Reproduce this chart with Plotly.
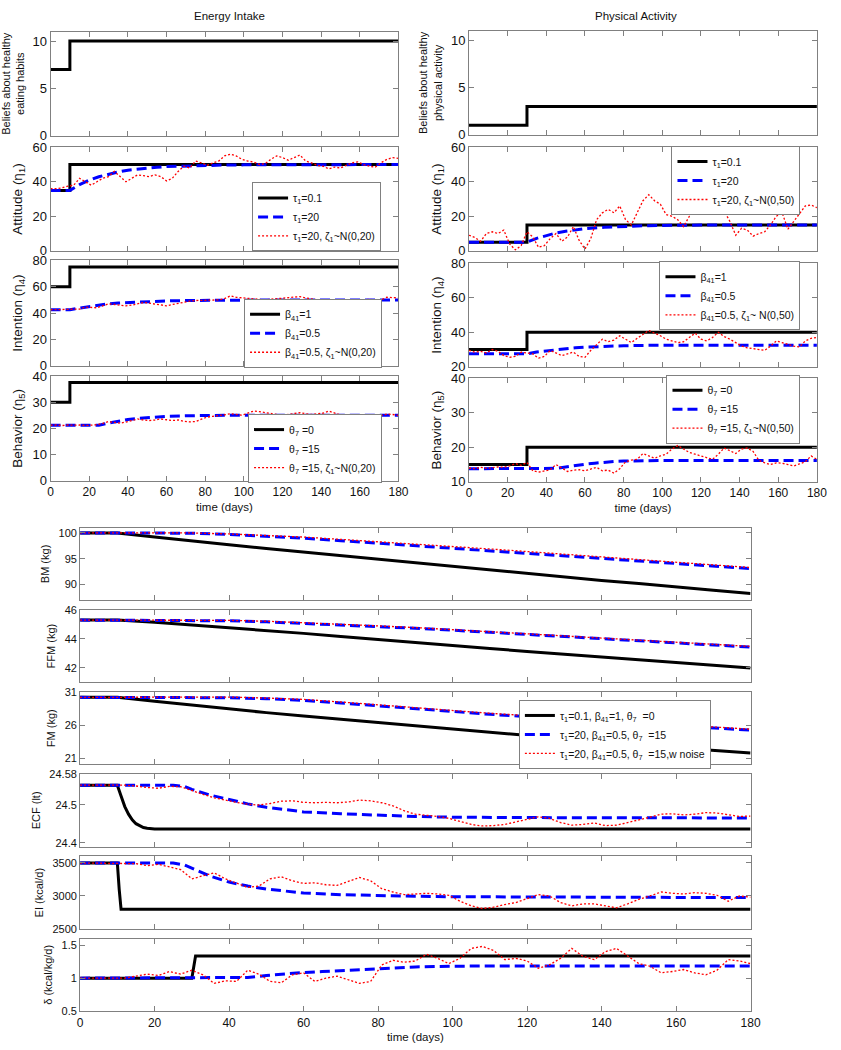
import plotly.graph_objects as go

W, H = 841, 1050

# ---------------- time grids ----------------
days3 = list(range(0, 181, 3))
days10 = list(range(0, 181, 10))

# ---------------- Energy Intake (left column) ----------------
beliefs_ei_t = [0, 10, 180]
beliefs_ei = [7, 10, 10]

att_ei_black_t = [0, 10, 180]
att_ei_black = [35, 50, 50]
att_ei_blue_t = [0, 10, 15, 20, 25, 30, 35, 40, 45, 50, 55, 60, 65, 70, 75, 80, 85, 90, 100, 110, 120, 140, 160, 180]
att_ei_blue = [35, 35, 38.3, 40.9, 42.9, 44.5, 45.7, 46.7, 47.4, 48.0, 48.4, 48.8, 49.0, 49.3, 49.4, 49.5, 49.6, 49.7, 49.8, 49.85, 49.9, 50, 50, 50]
att_ei_red = [36, 36, 36.5, 37.5, 38, 42, 40, 38, 40, 42,
              43, 46, 43, 40, 42, 44, 43.5, 43, 44, 43,
              40.5, 42, 46, 49, 48, 52, 51, 49.5, 51, 52,
              55, 56, 55, 53, 52, 51.5, 50, 50.5, 53, 55,
              54, 52.5, 54, 55.5, 52, 51, 49.5, 49, 47.5, 48.5,
              48, 49.5, 51, 51.5, 50, 49, 48.5, 51, 53, 54,
              53.5]

int_ei_black_t = [0, 10, 180]
int_ei_black = [60, 75, 75]
int_ei_blue_t = [0, 10, 15, 20, 25, 30, 35, 40, 45, 50, 55, 60, 70, 80, 90, 100, 120, 180]
int_ei_blue = [42.5, 42.5, 43.8, 45, 46.1, 47, 47.6, 48, 48.5, 48.8, 49, 49.2, 49.5, 49.7, 49.8, 49.9, 50, 50]
int_ei_red = [42.5, 42.5, 42.3, 42.8, 43, 43, 44.5, 44, 44, 45.5,
              47, 46.5, 46, 45.5, 46, 47, 48, 47.5, 47, 46,
              45.5, 46.5, 47.5, 48.5, 49, 49.5, 49.5, 50, 50, 50,
              51, 53, 52, 51.5, 51, 50.5, 50, 50, 50.5, 51,
              51, 51.5, 52, 52.5, 51.5, 51, 50, 49, 49.5, 49.5,
              49, 49.5, 50, 50, 50, 50.5, 49.5, 50, 52, 52,
              51.5]

beh_ei_black_t = [0, 10, 180]
beh_ei_black = [30, 37.5, 37.5]
beh_ei_blue_t = [0, 25, 30, 35, 40, 45, 50, 55, 60, 70, 80, 90, 180]
beh_ei_blue = [21.2, 21.2, 22, 22.8, 23.4, 23.8, 24.1, 24.4, 24.6, 24.8, 24.9, 25, 25]
beh_ei_red = [21.2, 21.3, 21.1, 21.3, 21.2, 21.3, 21.1, 21.3, 21.4, 21.9,
              22.6, 22.3, 22, 22.4, 23, 23.6, 23.2, 23, 23.2, 23.6,
              23.3, 23, 23.2, 22.7, 22.5, 22.6, 23.5, 24.3, 24.6, 24.8,
              25.2, 25.6, 25.2, 25, 25.8, 26.6, 26.4, 26, 25.5, 25.3,
              25, 25.4, 25.8, 26, 25.6, 25.3, 25.6, 25.8, 26.6, 25.8,
              25.1, 25, 24.8, 24.6, 25, 24.8, 24.5, 24.9, 25.5, 25.3,
              25]

# ---------------- Physical Activity (right column) ----------------
beliefs_pa_t = [0, 30, 180]
beliefs_pa = [1, 3, 3]

att_pa_black_t = [0, 30, 180]
att_pa_black = [5, 15, 15]
att_pa_blue_t = [0, 30, 35, 40, 45, 50, 55, 60, 70, 80, 90, 100, 120, 180]
att_pa_blue = [5, 5, 7.2, 8.9, 10.3, 11.3, 12.2, 12.8, 13.6, 14.2, 14.5, 14.7, 14.9, 15]
att_pa_red = [9, 7.7, 5.5, 10, 11, 10, 12, 4, 0.5, 3,
              11, 8, 2, 3, 7, 10, 5.5, 8, 14, 6,
              1, 7, 18, 22, 24, 22, 26, 18, 15, 22,
              29, 32.5, 29, 27, 21, 20, 18, 14, 20, 24,
              26, 22, 24, 25, 23, 17, 9, 13, 12, 8.5,
              10, 11, 15, 20, 22, 12.5, 17, 21, 26, 26.5,
              25]

int_pa_black_t = [0, 30, 180]
int_pa_black = [30, 40, 40]
int_pa_blue_t = [0, 30, 35, 40, 45, 50, 55, 60, 70, 80, 90, 100, 180]
int_pa_blue = [27.5, 27.5, 28.6, 29.3, 30, 30.5, 31, 31.4, 31.9, 32.2, 32.4, 32.5, 32.5]
int_pa_red = [29.5, 28.5, 29, 28, 30, 29, 26.5, 25.5, 26, 28.5,
              28, 27.5, 25, 26, 29.5, 28, 26.5, 27.5, 28.5, 26,
              25.5, 29.5, 33, 36, 34.5, 35.5, 38, 36, 34, 36.5,
              39, 41, 39.5, 38, 36, 35, 34, 34.5, 37, 39.5,
              36, 35, 37, 40, 37.5, 36, 34, 32, 31, 30.5,
              30, 29.5, 32, 35, 34, 33, 32, 31.5, 35, 36.5,
              37]

beh_pa_black_t = [0, 30, 180]
beh_pa_black = [15, 20, 20]
beh_pa_blue_t = [0, 40, 45, 50, 55, 60, 65, 70, 75, 80, 90, 100, 180]
beh_pa_blue = [13.8, 13.8, 13.9, 14.3, 14.8, 15.1, 15.4, 15.7, 15.9, 16, 16.1, 16.2, 16.2]
beh_pa_red = [14, 13.8, 14.2, 13.9, 14.1, 14.3, 14.2, 14.6, 15.3, 14.8,
              15.6, 13.2, 12.8, 13.2, 13.5, 15, 14, 13, 13.4, 13.5,
              13.2, 13.8, 14.2, 13.2, 13.4, 12.5, 13.8, 15.8, 16.3, 16.5,
              18.2, 17.5, 16.8, 17.5, 18, 19.5, 20.5, 19.5, 18.5, 18,
              17.5, 17, 16.5, 18, 19.8, 19, 18.2, 19.5, 19.8, 18.8,
              16.2, 15.5, 15, 15.5, 15.4, 15, 14.6, 15.2, 15.8, 17.5,
              16.5]

# ---------------- Body composition (bottom) ----------------
bm_black = [100, 100, 99.2, 98.4, 97.7, 97.0, 96.3, 95.6, 94.9, 94.2, 93.5, 92.8, 92.1, 91.5, 90.8, 90.2, 89.5, 88.9, 88.3]
bm_blue = [100, 100, 100, 99.95, 99.7, 99.4, 99.0, 98.5, 98.0, 97.6, 97.1, 96.6, 96.1, 95.6, 95.1, 94.6, 94.1, 93.6, 93.1]
bm_red = [100, 100, 100, 100, 99.8, 99.55, 99.2, 98.75, 98.3, 97.9, 97.4, 96.9, 96.4, 95.9, 95.4, 94.9, 94.35, 93.8, 93.3]

ffm_black = [45.3, 45.3, 45.15, 44.97, 44.78, 44.58, 44.38, 44.17, 43.95, 43.73, 43.53, 43.33, 43.13, 42.93, 42.73, 42.53, 42.35, 42.17, 41.98]
ffm_blue = [45.3, 45.3, 45.3, 45.3, 45.25, 45.18, 45.08, 44.97, 44.85, 44.73, 44.6, 44.45, 44.3, 44.15, 44.0, 43.85, 43.7, 43.57, 43.43]
ffm_red = [45.3, 45.3, 45.3, 45.32, 45.28, 45.22, 45.13, 45.02, 44.9, 44.78, 44.65, 44.5, 44.35, 44.2, 44.05, 43.9, 43.76, 43.62, 43.48]

fm_black = [30.2, 30.2, 29.6, 29.0, 28.5, 27.9, 27.4, 26.9, 26.4, 25.9, 25.4, 24.9, 24.4, 23.9, 23.5, 23.0, 22.6, 22.2, 21.8]
fm_blue = [30.2, 30.2, 30.2, 30.2, 30.15, 30.0, 29.75, 29.35, 28.9, 28.45, 28.05, 27.65, 27.3, 26.95, 26.6, 26.25, 25.9, 25.6, 25.25]
fm_red = [30.2, 30.2, 30.2, 30.25, 30.25, 30.1, 29.9, 29.5, 29.05, 28.6, 28.2, 27.8, 27.45, 27.1, 26.75, 26.4, 26.05, 25.75, 25.4]

ecf_black_t = [0, 10, 11, 12, 13, 14, 15, 16, 17, 18, 20, 25, 180]
ecf_black = [24.551, 24.551, 24.523, 24.495, 24.475, 24.46, 24.45, 24.444, 24.44, 24.438, 24.436, 24.436, 24.436]
ecf_blue_t = [0, 25, 28, 30, 35, 40, 45, 50, 55, 60, 70, 80, 90, 100, 120, 180]
ecf_blue = [24.551, 24.551, 24.548, 24.54, 24.525, 24.513, 24.502, 24.493, 24.486, 24.481, 24.476, 24.472, 24.469, 24.467, 24.466, 24.465]
ecf_red = [24.551, 24.551, 24.551, 24.551, 24.551, 24.549, 24.545, 24.543, 24.548, 24.547,
           24.538, 24.527, 24.518, 24.511, 24.506, 24.501, 24.499, 24.503, 24.509, 24.51,
           24.506, 24.505, 24.506, 24.505, 24.507, 24.512, 24.51, 24.505, 24.497, 24.484,
           24.475, 24.472, 24.469, 24.464, 24.456, 24.448, 24.444, 24.445, 24.448, 24.454,
           24.462, 24.468, 24.464, 24.453, 24.446, 24.448, 24.452, 24.445, 24.446, 24.452,
           24.46, 24.467, 24.475, 24.476, 24.473, 24.475, 24.479, 24.478, 24.474, 24.469,
           24.47]

ei_black_t = [0, 10, 10.5, 11, 180]
ei_black = [3500, 3500, 3100, 2800, 2800]
ei_blue_t = [0, 25, 28, 30, 35, 40, 45, 50, 55, 60, 70, 80, 90, 100, 120, 150, 180]
ei_blue = [3500, 3500, 3470, 3420, 3300, 3210, 3150, 3105, 3070, 3045, 3020, 3005, 2995, 2988, 2982, 2978, 2975]
ei_red = [3500, 3500, 3500, 3500, 3500, 3490, 3460, 3480, 3440, 3400,
          3260, 3300, 3350, 3260, 3200, 3130, 3150, 3260, 3290, 3230,
          3190, 3200, 3170, 3160, 3220, 3280, 3230, 3110, 3060, 3020,
          3030, 3040, 3030, 3010, 2920, 2850, 2810, 2830, 2870, 2900,
          2960, 3020, 3000, 2900, 2850, 2880, 2880, 2850, 2820, 2880,
          2950, 3000, 3060, 3040, 3030, 3050, 3040, 3010, 2920, 3000,
          2980]

dl_black_t = [0, 30, 31, 180]
dl_black = [1, 1, 1.335, 1.335]
dl_blue_t = [0, 42, 45, 50, 55, 60, 65, 70, 75, 80, 85, 90, 100, 110, 180]
dl_blue = [1, 1, 1.01, 1.04, 1.065, 1.085, 1.1, 1.115, 1.13, 1.145, 1.16, 1.17, 1.18, 1.185, 1.185]
dl_red = [1, 1, 1, 1, 1.0, 1.03, 1.06, 1.04, 1.1, 1.06,
          1.12, 1.05, 0.92, 0.96, 0.95, 1.12, 1.06, 0.95, 0.93, 1.05,
          1.08, 0.95, 1.0, 1.03, 0.98, 0.92, 0.95, 1.2, 1.27, 1.24,
          1.26, 1.36, 1.3, 1.22, 1.3, 1.45, 1.48, 1.42, 1.28, 1.3,
          1.26, 1.15, 1.2, 1.3, 1.45, 1.33, 1.28, 1.4, 1.45, 1.33,
          1.22, 1.18, 1.08, 1.1, 1.13, 1.08, 1.05, 1.12, 1.28, 1.26,
          1.22]

# ---------------- legend labels ----------------
leg_att_ei = ["τ<sub>1</sub>=0.1", "τ<sub>1</sub>=20", "τ<sub>1</sub>=20, ζ<sub>1</sub>~N(0,20)"]
leg_int_ei = ["β<sub>41</sub>=1", "β<sub>41</sub>=0.5", "β<sub>41</sub>=0.5, ζ<sub>1</sub>~N(0,20)"]
leg_beh_ei = ["θ<sub>7</sub> =0", "θ<sub>7</sub> =15", "θ<sub>7</sub> =15, ζ<sub>1</sub>~N(0,20)"]
leg_att_pa = ["τ<sub>1</sub>=0.1", "τ<sub>1</sub>=20", "τ<sub>1</sub>=20, ζ<sub>1</sub>~N(0,50)"]
leg_int_pa = ["β<sub>41</sub>=1", "β<sub>41</sub>=0.5", "β<sub>41</sub>=0.5, ζ<sub>1</sub>~ N(0,50)"]
leg_beh_pa = ["θ<sub>7</sub> =0", "θ<sub>7</sub> =15", "θ<sub>7</sub> =15, ζ<sub>1</sub>~N(0,50)"]
leg_body = ["τ<sub>1</sub>=0.1, β<sub>41</sub>=1, θ<sub>7</sub>  =0",
            "τ<sub>1</sub>=20, β<sub>41</sub>=0.5, θ<sub>7</sub>  =15",
            "τ<sub>1</sub>=20, β<sub>41</sub>=0.5, θ<sub>7</sub>  =15,w noise"]

x_ticks = [0, 20, 40, 60, 80, 100, 120, 140, 160, 180]

# ---------------- styles ----------------
BLACK = dict(color="black", width=3)
BLUE = dict(color="#0000ff", width=3, dash="10px,5px")
RED = dict(color="#ff0000", width=1.3, dash="2px,2px")
AXC = "#808080"
TXT = "#111111"
FONT = "Arial, 'Liberation Sans', sans-serif"

panels = [
    dict(x=(48.3, 401.7), y=(25, 130.7), yr=[0, 11], yt=[0, 5, 10],
         title="Beliefs about healthy<br>eating habits", tfs=11, xl=False,
         curves=[(beliefs_ei_t, beliefs_ei, BLACK, "hv")], leg=None, fs=13, xfs=12),
    dict(x=(48.3, 401.7), y=(142.3, 247.3), yr=[0, 60], yt=[0, 20, 40, 60],
         title="Attitude (η<sub>1</sub>)", tfs=13.5, xl=False,
         curves=[(att_ei_black_t, att_ei_black, BLACK, "hv"), (att_ei_blue_t, att_ei_blue, BLUE, "linear"),
                 (days3, att_ei_red, RED, "linear")], leg=(leg_att_ei, 384, 178), fs=13, xfs=12),
    dict(x=(48.3, 401.7), y=(257, 364), yr=[0, 80], yt=[0, 20, 40, 60, 80],
         title="Intention (η<sub>4</sub>)", tfs=13.5, xl=False,
         curves=[(int_ei_black_t, int_ei_black, BLACK, "hv"), (int_ei_blue_t, int_ei_blue, BLUE, "linear"),
                 (days3, int_ei_red, RED, "linear")], leg=(leg_int_ei, 385, 296), fs=13, xfs=12),
    dict(x=(48.3, 401.7), y=(374.3, 480.7), yr=[0, 40], yt=[0, 10, 20, 30, 40],
         title="Behavior (η<sub>5</sub>)", tfs=13.5, xl=True,
         curves=[(beh_ei_black_t, beh_ei_black, BLACK, "hv"), (beh_ei_blue_t, beh_ei_blue, BLUE, "linear"),
                 (days3, beh_ei_red, RED, "linear")], leg=(leg_beh_ei, 385, 413), fs=13, xfs=12),
    dict(x=(473.3, 826.7), y=(24.5, 129.5), yr=[0, 11], yt=[0, 5, 10],
         title="Beliefs about healthy<br>physical activity", tfs=11, xl=False,
         curves=[(beliefs_pa_t, beliefs_pa, BLACK, "hv")], leg=None, fs=13, xfs=12),
    dict(x=(473.3, 826.7), y=(142.3, 247.3), yr=[0, 60], yt=[0, 20, 40, 60],
         title="Attitude (η<sub>1</sub>)", tfs=13.5, xl=False,
         curves=[(att_pa_black_t, att_pa_black, BLACK, "hv"), (att_pa_blue_t, att_pa_blue, BLUE, "linear"),
                 (days3, att_pa_red, RED, "linear")], leg=(leg_att_pa, 810, 141), fs=13, xfs=12),
    dict(x=(473.3, 826.7), y=(260, 365), yr=[20, 80], yt=[20, 40, 60, 80],
         title="Intention (η<sub>4</sub>)", tfs=13.5, xl=False,
         curves=[(int_pa_black_t, int_pa_black, BLACK, "hv"), (int_pa_blue_t, int_pa_blue, BLUE, "linear"),
                 (days3, int_pa_red, RED, "linear")], leg=(leg_int_pa, 810, 258), fs=13, xfs=12),
    dict(x=(473.3, 826.7), y=(376.7, 481.7), yr=[10, 40], yt=[10, 20, 30, 40],
         title="Behavior (η<sub>5</sub>)", tfs=13.5, xl=True,
         curves=[(beh_pa_black_t, beh_pa_black, BLACK, "hv"), (beh_pa_blue_t, beh_pa_blue, BLUE, "linear"),
                 (days3, beh_pa_red, RED, "linear")], leg=(leg_beh_pa, 810, 373), fs=13, xfs=12),
    dict(x=(78.3, 759.3), y=(528.3, 601.7), yr=[87, 101], yt=[90, 95, 100],
         title="BM (kg)", tfs=11, xl=False,
         curves=[(days10, bm_black, BLACK, "linear"), (days10, bm_blue, BLUE, "linear"),
                 (days10, bm_red, RED, "linear")], leg=None, fs=11, xfs=12),
    dict(x=(78.3, 759.3), y=(611.7, 685), yr=[41, 46], yt=[42, 44, 46],
         title="FFM (kg)", tfs=11, xl=False,
         curves=[(days10, ffm_black, BLACK, "linear"), (days10, ffm_blue, BLUE, "linear"),
                 (days10, ffm_red, RED, "linear")], leg=None, fs=11, xfs=12),
    dict(x=(78.3, 759.3), y=(695, 768.3), yr=[20.1, 31], yt=[21, 26, 31],
         title="FM (kg)", tfs=11, xl=False,
         curves=[(days10, fm_black, BLACK, "linear"), (days10, fm_blue, BLUE, "linear"),
                 (days10, fm_red, RED, "linear")], leg=(leg_body, 719, 703), fs=11, xfs=12),
    dict(x=(78.3, 759.3), y=(778.3, 851.7), yr=[24.39, 24.58], yt=[24.4, 24.5, 24.58],
         title="ECF (lt)", tfs=11, xl=False,
         curves=[(ecf_black_t, ecf_black, BLACK, "linear"), (ecf_blue_t, ecf_blue, BLUE, "linear"),
                 (days3, ecf_red, RED, "linear")], leg=None, fs=11, xfs=12),
    dict(x=(78.3, 759.3), y=(861.7, 935.3), yr=[2500, 3600], yt=[2500, 3000, 3500],
         title="EI (kcal/d)", tfs=11, xl=False,
         curves=[(ei_black_t, ei_black, BLACK, "linear"), (ei_blue_t, ei_blue, BLUE, "linear"),
                 (days3, ei_red, RED, "linear")], leg=None, fs=11, xfs=12),
    dict(x=(78.3, 759.3), y=(945, 1018.7), yr=[0.5, 1.6], yt=[0.5, 1, 1.5],
         title="δ (kcal/kg/d)", tfs=11, xl=True,
         curves=[(dl_black_t, dl_black, BLACK, "linear"), (dl_blue_t, dl_blue, BLUE, "linear"),
                 (days3, dl_red, RED, "linear")], leg=None, fs=11, xfs=12),
]

fig = go.Figure()
layout = dict(width=W, height=H, margin=dict(l=0, r=0, t=0, b=0),
              paper_bgcolor="white", plot_bgcolor="white",
              font=dict(family=FONT, size=12, color=TXT))

leg_count = 0
for i, p in enumerate(panels, start=1):
    xs = "" if i == 1 else str(i)
    xa, ya = "x" + xs, "y" + xs
    leg_name = None
    if p["leg"] is not None:
        leg_count += 1
        leg_name = "legend" if leg_count == 1 else "legend%d" % leg_count
        labels, rpx, tpx = p["leg"]
        layout[leg_name] = dict(x=rpx / W, y=1 - tpx / H, xanchor="right", yanchor="top",
                                bgcolor="white", bordercolor=AXC, borderwidth=1,
                                font=dict(family=FONT, size=10.5, color=TXT),
                                tracegroupgap=0)
    for k, (tx, ty, st, shape) in enumerate(p["curves"]):
        tr = dict(x=tx, y=ty, mode="lines", line=dict(st, shape=shape),
                  xaxis=xa, yaxis=ya, hoverinfo="skip")
        if leg_name is not None:
            tr["name"] = labels[k]
            tr["legend"] = leg_name
            tr["showlegend"] = True
        else:
            tr["showlegend"] = False
        fig.add_trace(go.Scatter(**tr))
    top, bot = p["y"]
    common = dict(showline=True, linecolor=AXC, linewidth=1, mirror="ticks",
                  ticks="inside", ticklen=5, tickcolor=AXC, tickwidth=1,
                  showgrid=False, zeroline=False)
    layout["xaxis" + xs] = dict(common, domain=[p["x"][0] / W, p["x"][1] / W], anchor=ya,
                                range=[0, 180], tickmode="array", tickvals=x_ticks,
                                showticklabels=p["xl"],
                                tickfont=dict(size=p["xfs"], family=FONT, color=TXT),
                                title=dict(text="time (days)" if p["xl"] else "",
                                           font=dict(size=11.5, family=FONT, color=TXT),
                                           standoff=4))
    layout["yaxis" + xs] = dict(common, domain=[1 - bot / H, 1 - top / H], anchor=xa,
                                range=p["yr"], tickmode="array", tickvals=p["yt"],
                                tickfont=dict(size=p["fs"], family=FONT, color=TXT),
                                title=dict(text=p["title"],
                                           font=dict(size=p["tfs"], family=FONT, color=TXT),
                                           standoff=6))

layout["annotations"] = [
    dict(text="Energy Intake", x=230 / W, y=1 - 9 / H, xref="paper", yref="paper",
         showarrow=False, xanchor="center", yanchor="middle",
         font=dict(size=11.5, family=FONT, color=TXT)),
    dict(text="Physical Activity", x=643 / W, y=1 - 9 / H, xref="paper", yref="paper",
         showarrow=False, xanchor="center", yanchor="middle",
         font=dict(size=11.5, family=FONT, color=TXT)),
]

fig.update_layout(**layout)
fig.write_html("out.html", config={"displayModeBar": False},
               post_script="document.body.style.margin='0';")
